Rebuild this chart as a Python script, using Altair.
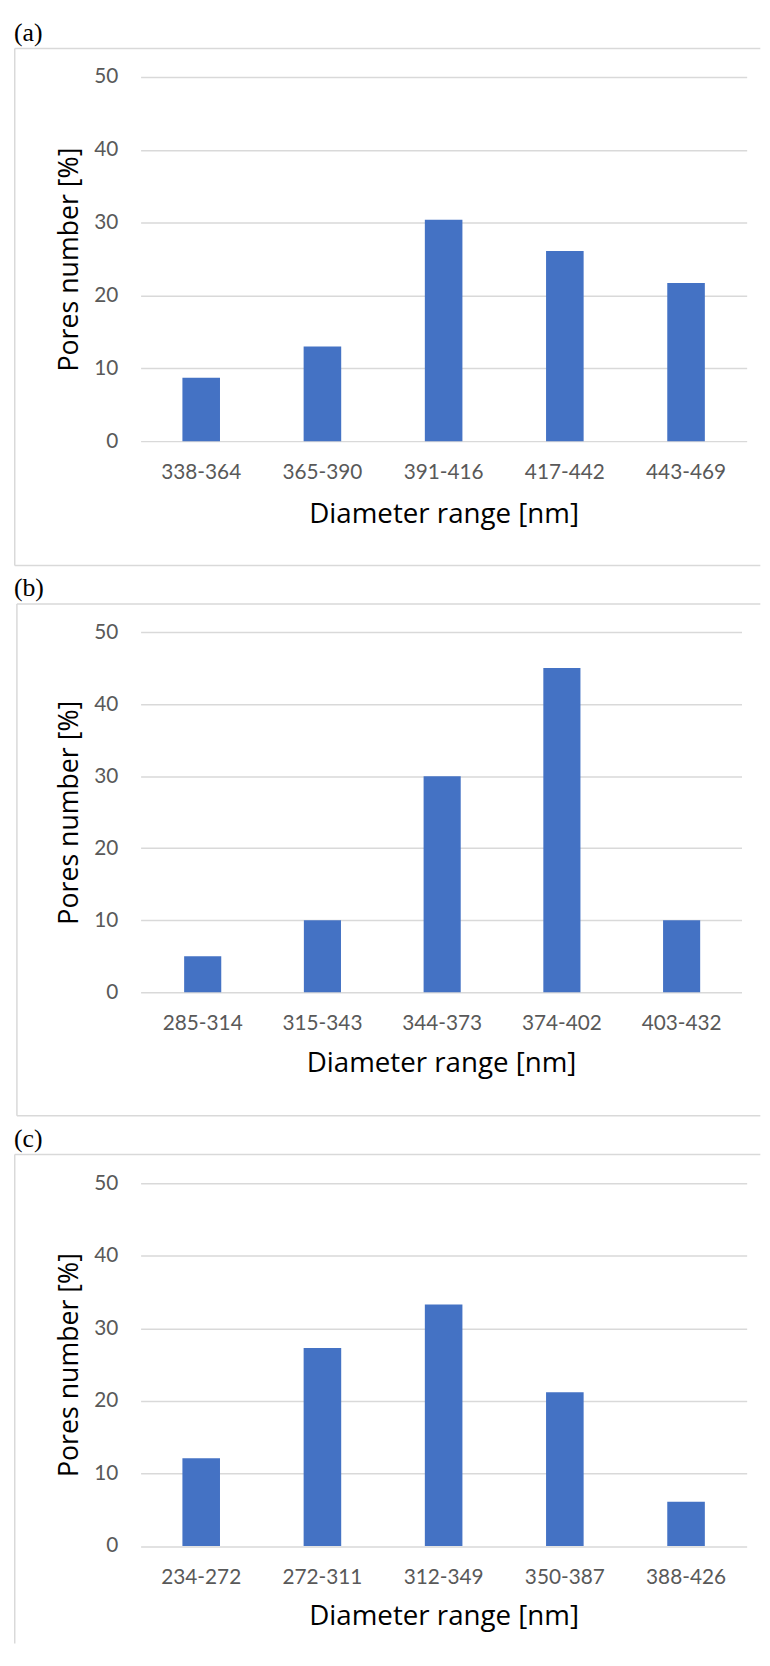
import altair as alt
import pandas as pd

# ---- data ----
panel_labels = ["(a)", "(b)", "(c)"]

cats_a = ["338-364", "365-390", "391-416", "417-442", "443-469"]
vals_a = [8.7, 13.0, 30.4, 26.1, 21.7]

cats_b = ["285-314", "315-343", "344-373", "374-402", "403-432"]
vals_b = [5, 10, 30, 45, 10]

cats_c = ["234-272", "272-311", "312-349", "350-387", "388-426"]
vals_c = [12.1, 27.3, 33.3, 21.2, 6.1]

y_ticks = [0, 10, 20, 30, 40, 50]
x_title = "Diameter range [nm]"
y_title = "Pores number [%]"

# ---- styling ----
BLUE = "#4472c4"
GRID = "#d9d9d9"
TICK_COLOR = "#595959"
BOX_RIGHT = 626.3
BOUND_LEFT = -133.7

one = pd.DataFrame({"k": [0]})


def panel(cats, vals, label, w, h, top_b, bot_b, box_left, box_top, box_bot,
          label_y, xtitle_y, pad_outer=0.345, band_align=0.5):
    df = pd.DataFrame({"range": cats, "pct": vals})

    bars = alt.Chart(df).mark_bar(color=BLUE).encode(
        x=alt.X(
            "range:N",
            sort=cats,
            scale=alt.Scale(paddingInner=0.69, paddingOuter=pad_outer, align=band_align),
            axis=alt.Axis(
                title=x_title,
                labelAngle=0,
                labelFont="Lato",
                labelFontSize=21,
                labelColor=TICK_COLOR,
                labelPadding=21,
                ticks=False,
                tickSize=0,
                domain=False,
                titleFont="Open Sans",
                titleFontSize=28,
                titleFontWeight="normal",
                titleColor="#000000",
                titleBaseline="alphabetic",
                titleY=xtitle_y,
                titleX=w / 2,
                titleAlign="center",
            ),
        ),
        y=alt.Y(
            "pct:Q",
            scale=alt.Scale(domain=[0, 50], nice=False),
            axis=alt.Axis(
                values=y_ticks,
                title=y_title,
                grid=True,
                gridColor=GRID,
                gridWidth=1.5,
                domain=False,
                ticks=False,
                tickSize=0,
                labelPadding=23,
                labelFont="Lato",
                labelFontSize=21,
                labelColor=TICK_COLOR,
                titleFont="Open Sans",
                titleFontSize=27,
                titleFontWeight="normal",
                titleColor="#000000",
                titleAngle=270,
                titleX=-64,
                titleY=h / 2,
                titleAlign="center",
                titleBaseline="alphabetic",
            ),
        ),
    )

    layers = []
    # invisible bounds that fix the panel extent
    layers.append(
        alt.Chart(one).mark_rule(opacity=0).encode(
            x=alt.value(BOUND_LEFT), x2=alt.value(BOX_RIGHT), y=alt.value(top_b)
        )
    )
    layers.append(
        alt.Chart(one).mark_rule(opacity=0).encode(
            x=alt.value(BOUND_LEFT), x2=alt.value(BOX_RIGHT), y=alt.value(bot_b)
        )
    )
    # frame
    layers.append(
        alt.Chart(one).mark_rule(color=GRID, strokeWidth=1.5).encode(
            x=alt.value(box_left), y=alt.value(box_top),
            y2=alt.value(box_bot if box_bot is not None else bot_b)
        )
    )
    layers.append(
        alt.Chart(one).mark_rule(color=GRID, strokeWidth=1.5).encode(
            x=alt.value(box_left), x2=alt.value(BOX_RIGHT), y=alt.value(box_top)
        )
    )
    if box_bot is not None:
        layers.append(
            alt.Chart(one).mark_rule(color=GRID, strokeWidth=1.5).encode(
                x=alt.value(box_left), x2=alt.value(BOX_RIGHT), y=alt.value(box_bot)
            )
        )
    layers.append(bars)
    layers.append(
        alt.Chart(one).mark_text(
            text=label,
            font="Liberation Serif",
            fontSize=26,
            align="left",
            baseline="alphabetic",
            color="#000000",
        ).encode(x=alt.value(-128), y=alt.value(label_y))
    )
    return alt.layer(*layers).properties(width=w, height=h)


pa = panel(cats_a, vals_a, panel_labels[0], 612.5, 368, -60.7, 501.3,
           -127.2, -28.7, 493.8, -36.3, 82)
pb = panel(cats_b, vals_b, panel_labels[1], 607.3, 364, -58.3, 495.7,
           -125.0, -28.3, 488.7, -36.9, 80, pad_outer=0.3545, band_align=0.513)
pc = panel(cats_c, vals_c, panel_labels[2], 612.5, 366.5, -61, 465,
           -127.2, -29, None, -37, 79.5)

chart = (
    alt.vconcat(pa, pb, pc, spacing=0)
    .properties(padding=0)
    .configure_view(strokeWidth=0)
)

chart.save("out.html", embed_options={"renderer": "svg", "actions": False})
